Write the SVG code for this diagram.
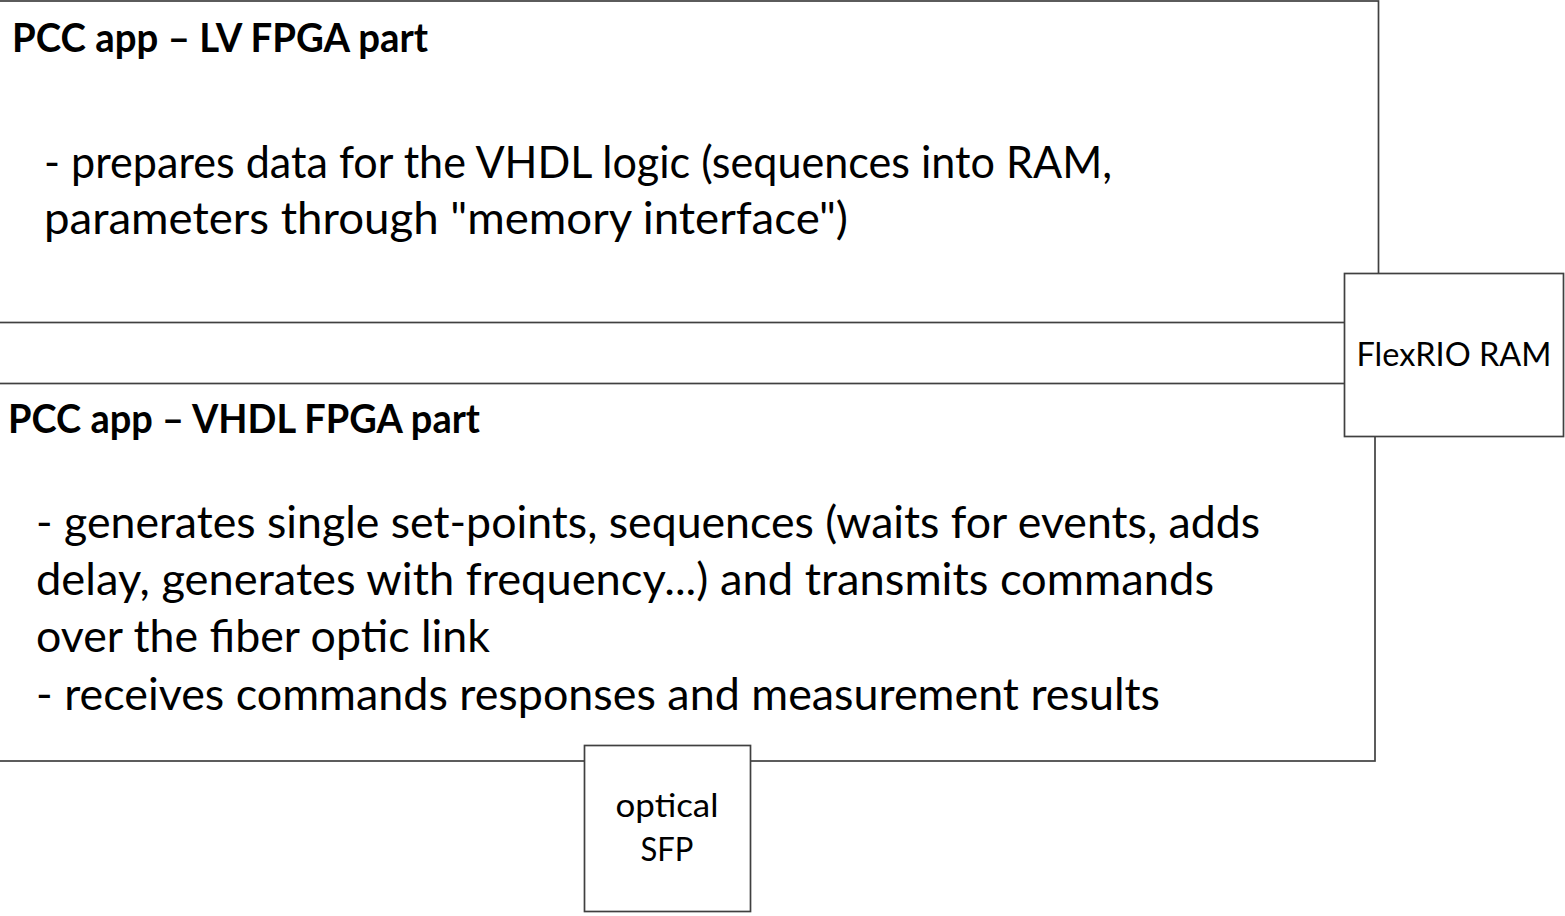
<svg xmlns="http://www.w3.org/2000/svg" width="1565" height="916" viewBox="0 0 1565 916">
  <style>
    .frame { fill: #ffffff; stroke: #404040; stroke-width: 1.7; }
    .title { font-family: Lato, "Open Sans", "Liberation Sans", sans-serif; font-weight: bold; font-size: 40px; fill: #000000; }
    .body { font-family: Lato, "Open Sans", "Liberation Sans", sans-serif; font-size: 45px; fill: #000000; }
    .label { font-family: Lato, "Open Sans", "Liberation Sans", sans-serif; font-size: 33px; fill: #000000; text-anchor: middle; }
  </style>

  <rect width="1565" height="916" fill="#ffffff"/>

  <!-- LabVIEW FPGA block -->
  <g id="lv-fpga">
    <rect class="frame" x="-3" y="1" width="1381.5" height="321.5"/>
    <text class="title" x="12" y="52" textLength="416" lengthAdjust="spacingAndGlyphs">PCC app – LV FPGA part</text>
    <text class="body" x="44" y="178" textLength="1068" lengthAdjust="spacingAndGlyphs">- prepares data for the VHDL logic (sequences into RAM,</text>
    <text class="body" x="44" y="234" textLength="804" lengthAdjust="spacingAndGlyphs">parameters through "memory interface")</text>
  </g>

  <!-- VHDL FPGA block -->
  <g id="vhdl-fpga">
    <rect class="frame" x="-3" y="383.5" width="1378" height="377.5"/>
    <text class="title" x="8" y="433" textLength="472" lengthAdjust="spacingAndGlyphs">PCC app – VHDL FPGA part</text>
    <text class="body" x="36" y="538" textLength="1224" lengthAdjust="spacingAndGlyphs">- generates single set-points, sequences (waits for events, adds</text>
    <text class="body" x="36" y="595" textLength="1178" lengthAdjust="spacingAndGlyphs">delay, generates with frequency...) and transmits commands</text>
    <text class="body" x="36" y="652" textLength="454" lengthAdjust="spacingAndGlyphs">over the fiber optic link</text>
    <text class="body" x="36" y="710" textLength="1124" lengthAdjust="spacingAndGlyphs">- receives commands responses and measurement results</text>
  </g>

  <!-- connectors: none drawn separately; interface boxes sit on the block edges -->
  <g id="connectors"></g>

  <!-- shared RAM between the two FPGA parts -->
  <g id="flexrio-ram">
    <rect class="frame" x="1344.5" y="273.5" width="219" height="163"/>
    <text class="label" x="1454" y="366" textLength="195" lengthAdjust="spacingAndGlyphs">FlexRIO RAM</text>
  </g>

  <!-- optical transceiver -->
  <g id="optical-sfp">
    <rect class="frame" x="584.5" y="745.5" width="166" height="166"/>
    <text class="label" x="667" y="817" textLength="103" lengthAdjust="spacingAndGlyphs">optical</text>
    <text class="label" x="667" y="861" textLength="53" lengthAdjust="spacingAndGlyphs">SFP</text>
  </g>
</svg>
